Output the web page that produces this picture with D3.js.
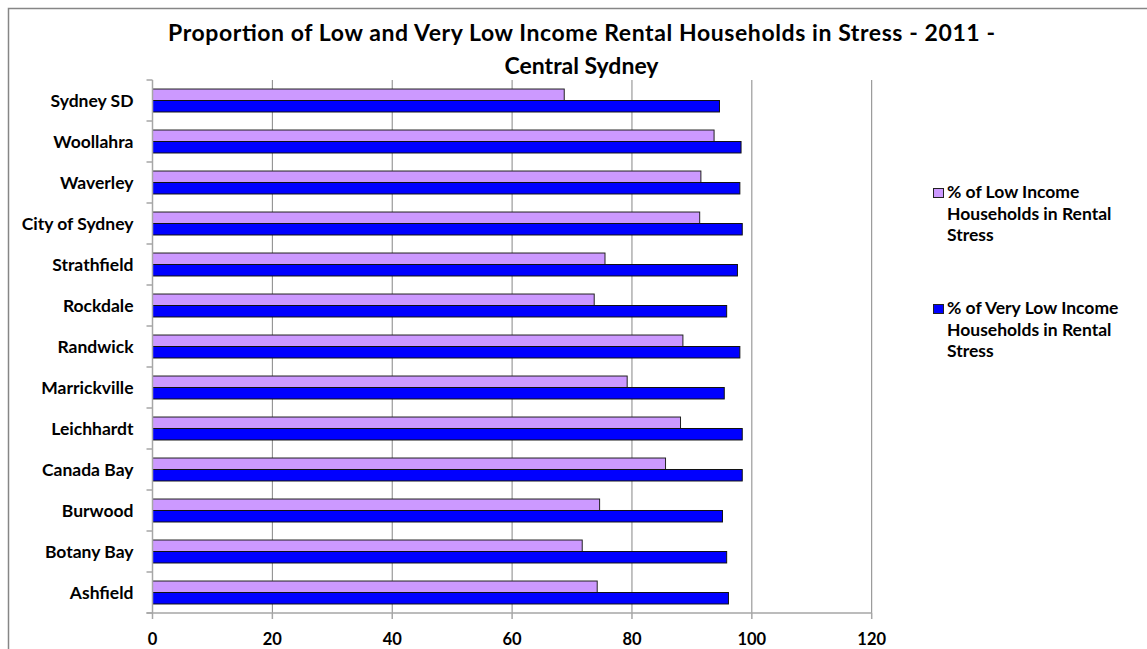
<!DOCTYPE html>
<html>
<head>
<meta charset="utf-8">
<script src="https://cdn.jsdelivr.net/npm/d3@7"></script>
<style>
body { margin: 0; background: #fff; }
svg text { font-family: Lato, "Open Sans", sans-serif; font-weight: bold; fill: #000; }
</style>
</head>
<body>
<div id="Graph"></div>
<script>
// data (top to bottom)
var councils = ["Sydney SD", "Woollahra", "Waverley", "City of Sydney", "Strathfield", "Rockdale",
    "Randwick", "Marrickville", "Leichhardt", "Canada Bay", "Burwood", "Botany Bay", "Ashfield"];
var lowIncome = [68.7, 93.7, 91.5, 91.3, 75.5, 73.7, 88.5, 79.2, 88.1, 85.6, 74.6, 71.7, 74.2];
var veryLowIncome = [94.6, 98.2, 98.0, 98.4, 97.6, 95.8, 98.0, 95.4, 98.4, 98.4, 95.1, 95.8, 96.1];
var seriesNames = ["% of Low Income Households in Rental Stress",
    "% of Very Low Income Households in Rental Stress"];
var xTicks = [0, 20, 40, 60, 80, 100, 120];

var width = 1147, height = 649;
var margin = {top: 80, left: 152.5};
var plotW = 719.2, plotH = 533;

var svg = d3.select("#Graph").append("svg")
    .attr("width", width)
    .attr("height", height);

// chart frame
svg.append("rect")
    .attr("x", 8.5).attr("y", 8.5)
    .attr("width", width).attr("height", height)
    .style("fill", "none")
    .style("stroke", "#868686")
    .style("stroke-width", 1.5);

// title
var title = svg.append("text")
    .attr("y", 41)
    .style("text-anchor", "middle")
    .style("font-size", "23px");
title.append("tspan").attr("x", 581.5)
    .attr("textLength", 827).attr("lengthAdjust", "spacing")
    .text("Proportion of Low and Very Low Income Rental Households in Stress - 2011 -");
title.append("tspan").attr("x", 581.5).attr("dy", 33).text("Central Sydney");

var x = d3.scaleLinear().domain([0, 120]).range([0, plotW]);
var y = d3.scaleBand().domain(councils).range([0, plotH]).paddingInner(0.44).paddingOuter(0.22);
var ySub = d3.scaleBand().domain([0, 1]).range([0, y.bandwidth()]);

var g = svg.append("g")
    .attr("transform", "translate(" + margin.left + "," + margin.top + ")");

// vertical gridlines
g.selectAll(".grid")
    .data(xTicks.slice(1))
    .enter().append("line")
    .attr("x1", function (d) { return x(d); })
    .attr("x2", function (d) { return x(d); })
    .attr("y1", 0).attr("y2", plotH)
    .style("stroke", "#868686")
    .style("stroke-width", 1);

// category rows
var rows = g.selectAll(".row")
    .data(councils)
    .enter().append("g")
    .attr("transform", function (d) { return "translate(0," + y(d) + ")"; });

rows.append("rect")
    .attr("x", 0)
    .attr("y", ySub(0))
    .attr("height", ySub.bandwidth())
    .attr("width", function (d, i) { return x(lowIncome[i]); })
    .style("fill", "#CC99FF")
    .style("stroke", "#222")
    .style("stroke-width", 1);

rows.append("rect")
    .attr("x", 0)
    .attr("y", ySub(1))
    .attr("height", ySub.bandwidth())
    .attr("width", function (d, i) { return x(veryLowIncome[i]); })
    .style("fill", "#0000FF")
    .style("stroke", "#111")
    .style("stroke-width", 1);

// y axis
var step = y.step();
var yAxis = g.append("g");
yAxis.append("line")
    .attr("x1", 0).attr("x2", 0).attr("y1", 0).attr("y2", plotH)
    .style("stroke", "#a6a6a6")
    .style("stroke-width", 1.5);
yAxis.selectAll(".ytick")
    .data(d3.range(councils.length + 1))
    .enter().append("line")
    .attr("x1", -6).attr("x2", 0)
    .attr("y1", function (d) { return d * step; })
    .attr("y2", function (d) { return d * step; })
    .style("stroke", "#a6a6a6")
    .style("stroke-width", 1.5);
yAxis.selectAll(".ylabel")
    .data(councils)
    .enter().append("text")
    .attr("x", -19)
    .attr("y", function (d) { return y(d) + y.bandwidth() / 2; })
    .attr("dy", "0.36em")
    .style("text-anchor", "end")
    .style("font-size", "17.5px")
    .text(function (d) { return d; });

// x axis
var xAxis = g.append("g").attr("transform", "translate(0," + plotH + ")");
xAxis.append("line")
    .attr("x1", -6).attr("x2", x(120))
    .style("stroke", "#a6a6a6")
    .style("stroke-width", 1.5);
xAxis.selectAll(".xtick")
    .data(xTicks)
    .enter().append("line")
    .attr("x1", function (d) { return x(d); })
    .attr("x2", function (d) { return x(d); })
    .attr("y1", 0).attr("y2", 6)
    .style("stroke", "#a6a6a6")
    .style("stroke-width", 1.5);
xAxis.selectAll(".xlabel")
    .data(xTicks)
    .enter().append("text")
    .attr("x", function (d) { return x(d); })
    .attr("y", 32)
    .style("text-anchor", "middle")
    .style("font-size", "16.5px")
    .text(function (d) { return d; });

// legend
var legendLines = [["% of Low Income", "Households in Rental", "Stress"],
    ["% of Very Low Income", "Households in Rental", "Stress"]];
var legendColors = ["#CC99FF", "#0000FF"];
var legend = svg.selectAll(".legend")
    .data(seriesNames)
    .enter().append("g")
    .attr("transform", function (d, i) { return "translate(933," + (198 + i * 116) + ")"; });

legend.append("rect")
    .attr("x", 0.5).attr("y", -9.5)
    .attr("width", 10).attr("height", 9)
    .style("fill", function (d, i) { return legendColors[i]; })
    .style("stroke", "#222");

legend.each(function (d, i) {
    var t = d3.select(this).append("text")
        .attr("x", 14)
        .attr("y", 0)
        .style("font-size", "17.5px");
    legendLines[i].forEach(function (line, k) {
        t.append("tspan").attr("x", 14).attr("dy", k === 0 ? 0 : 21.5).text(line);
    });
});
</script>
</body>
</html>
